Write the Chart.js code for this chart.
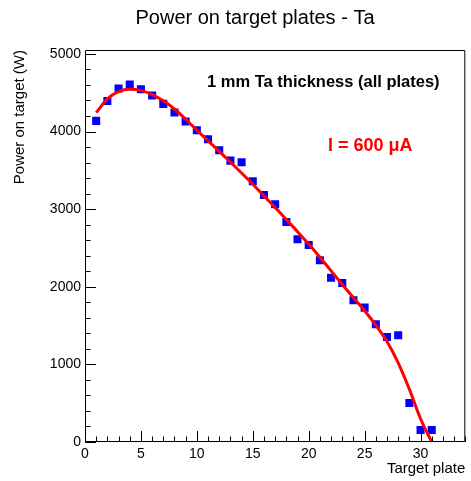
<!DOCTYPE html>
<html>
<head>
<meta charset="utf-8">
<script src="https://cdn.jsdelivr.net/npm/chart.js@4/dist/chart.umd.min.js"></script>
<style>
  html, body { margin: 0; padding: 0; background: #fff; }
  #wrap { width: 471px; height: 481px; }
</style>
</head>
<body>
<div id="wrap"><canvas id="chart" width="471" height="481"></canvas></div>
<script>
// measured power per target plate
const plates = [1, 2, 3, 4, 5, 6, 7, 8, 9, 10, 11, 12, 13, 14, 15, 16, 17, 18, 19, 20,
                21, 22, 23, 24, 25, 26, 27, 28, 29, 30, 31];
const power = [4137, 4394, 4553, 4605, 4545, 4463, 4356, 4244, 4128, 4017, 3901, 3759, 3625, 3604, 3360, 3183,
               3063, 2835, 2612, 2539, 2342, 2117, 2049, 1826, 1731, 1517, 1353, 1375, 503, 155, 155];
// fitted curve at each plate
const fitPower = [4243, 4420, 4515, 4545, 4530, 4475, 4395, 4290, 4158, 4018, 3880, 3745, 3605, 3465, 3320, 3170,
                  3020, 2865, 2710, 2550, 2380, 2205, 2030, 1860, 1690, 1505, 1295, 1020, 680, 300, 0];

const xMajorTicks = [0, 5, 10, 15, 20, 25, 30];
const yMajorTicks = [0, 1000, 2000, 3000, 4000, 5000];
const xMinorStep = 1;
const yMinorStep = 200;

const chartTitle = 'Power on target plates - Ta';
const noteText = '1 mm Ta thickness (all plates)';
const currentText = 'I = 600 \u03BCA';

const FONT = '"Liberation Sans", Arial, Helvetica, sans-serif';

// ROOT-style frame with inward ticks
const frameTicks = {
    id: 'frameTicks',
    afterDatasetsDraw(chart) {
        const { ctx, chartArea: a, scales: { x, y } } = chart;
        ctx.save();
        ctx.strokeStyle = '#000';
        ctx.lineWidth = 1;
        ctx.beginPath();
        ctx.rect(a.left + 0.5, a.top + 0.5, a.right - a.left - 1, a.bottom - a.top - 1);
        ctx.stroke();

        ctx.beginPath();
        for (let v = x.min; v <= x.max; v += xMinorStep) {
            const px = Math.round(x.getPixelForValue(v)) + 0.5;
            const len = xMajorTicks.includes(v) ? 11 : 5.5;
            ctx.moveTo(px, a.bottom);
            ctx.lineTo(px, a.bottom - len);
        }
        for (let v = y.min; v <= y.max; v += yMinorStep) {
            const py = Math.round(y.getPixelForValue(v)) + 0.5;
            const len = yMajorTicks.includes(v) ? 11 : 5.5;
            ctx.moveTo(a.left, py);
            ctx.lineTo(a.left + len, py);
        }
        ctx.stroke();
        ctx.restore();
    },
    afterDraw(chart) {
        const ctx = chart.ctx;
        ctx.save();
        ctx.textBaseline = 'alphabetic';
        ctx.fillStyle = '#000';
        ctx.textAlign = 'center';
        ctx.font = '20px ' + FONT;
        ctx.fillText(chartTitle, 255, 24);

        ctx.textAlign = 'left';
        ctx.font = 'bold 16.5px ' + FONT;
        ctx.fillText(noteText, 207, 87);

        ctx.fillStyle = '#ff0000';
        ctx.font = 'bold 18px ' + FONT;
        ctx.fillText(currentText, 328, 151);
        ctx.restore();
    }
};

new Chart(document.getElementById('chart').getContext('2d'), {
    type: 'scatter',
    data: {
        datasets: [
            {
                label: 'Fit',
                data: plates.map((p, i) => ({ x: p, y: fitPower[i] })),
                showLine: true,
                borderColor: '#ff0000',
                borderWidth: 3,
                pointRadius: 0,
                cubicInterpolationMode: 'monotone',
                order: 1
            },
            {
                label: 'Power',
                data: plates.map((p, i) => ({ x: p, y: power[i] })),
                showLine: false,
                pointStyle: 'rect',
                pointRadius: 5.7,
                backgroundColor: '#0000ff',
                borderColor: '#0000ff',
                borderWidth: 0,
                order: 2
            }
        ]
    },
    options: {
        responsive: false,
        animation: false,
        layout: { padding: { top: 50, right: 3, bottom: 0, left: 0 } },
        plugins: {
            legend: { display: false },
            tooltip: { enabled: false }
        },
        scales: {
            x: {
                type: 'linear',
                min: 0,
                max: 34,
                grid: { display: false, drawTicks: false },
                border: { display: false },
                afterBuildTicks: scale => { scale.ticks = xMajorTicks.map(v => ({ value: v })); },
                afterFit: scale => { scale.height = 39; },
                ticks: {
                    color: '#000',
                    font: { family: FONT, size: 14 },
                    padding: 4,
                    maxRotation: 0,
                    autoSkip: false,
                    callback: v => String(v)
                },
                title: {
                    display: true,
                    text: 'Target plate',
                    align: 'end',
                    color: '#000',
                    font: { family: FONT, size: 15 },
                    padding: { top: 0, bottom: 3.5 }
                }
            },
            y: {
                type: 'linear',
                min: 0,
                max: 5050,
                grid: { display: false, drawTicks: false },
                border: { display: false },
                afterBuildTicks: scale => { scale.ticks = yMajorTicks.map(v => ({ value: v })); },
                afterFit: scale => { scale.width = 85; },
                ticks: {
                    color: '#000',
                    font: { family: FONT, size: 14 },
                    padding: 4,
                    autoSkip: false,
                    callback: v => String(v)
                },
                title: {
                    display: true,
                    text: 'Power on target (W)',
                    align: 'end',
                    color: '#000',
                    font: { family: FONT, size: 15 },
                    padding: { top: 10.5, bottom: 0 }
                }
            }
        }
    },
    plugins: [frameTicks]
});
</script>
</body>
</html>
